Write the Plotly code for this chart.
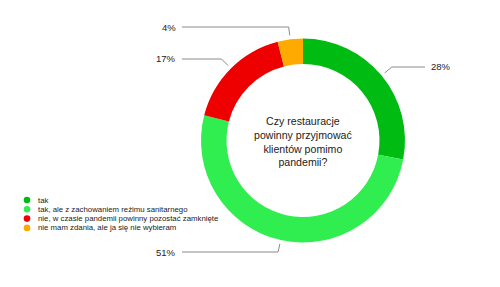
import math
import plotly.graph_objects as go

# ---- data ----
categories = [
    "tak",
    "tak, ale z zachowaniem reżimu sanitarnego",
    "nie, w czasie pandemii powinny pozostać zamknięte",
    "nie mam zdania, ale ja się nie wybieram",
]
values = [28, 51, 17, 4]
value_labels = ["28%", "51%", "17%", "4%"]
colors = ["#00BC12", "#30EE4F", "#EE0000", "#FFAA00"]
title_text = "Czy restauracje<br>powinny przyjmować<br>klientów pomimo<br>pandemii?"

# ---- layout geometry (pixels) ----
W, H = 500, 287
CX, CY, R = 303, 140.5, 102
HOLE = 0.75
# label y positions (pixels) for each slice
label_y = [67, 252, 59, 27]
LEFT_END, RIGHT_END = 182, 425
FONT = "Liberation Sans, Arial, sans-serif"


def px(x):
    return x / W


def py(y):
    return 1 - y / H


fig = go.Figure()
fig.add_trace(go.Pie(
    labels=categories,
    values=values,
    sort=False,
    direction="clockwise",
    rotation=0,
    hole=HOLE,
    marker=dict(colors=colors, line=dict(width=0)),
    textinfo="none",
    hoverinfo="label+percent",
    showlegend=False,
    domain=dict(x=[px(CX - R), px(CX + R)], y=[py(CY + R), py(CY - R)]),
))

shapes = []
annotations = []
total = sum(values)
cum = 0
for i, v in enumerate(values):
    mid = (cum + v / 2) / total * 2 * math.pi
    cum += v
    sx, sy = math.sin(mid), -math.cos(mid)
    x0, y0 = CX + (R + 4) * sx, CY + (R + 4) * sy
    ly = label_y[i]
    if abs(sy) > 1e-6:
        t = (ly - CY) / sy
    else:
        t = R + 12
    x1 = CX + t * sx
    y1 = ly
    right = sx > 0
    x2 = RIGHT_END if right else LEFT_END
    shapes.append(dict(type="path",
                       path=f"M {px(x0)} {py(y0)} L {px(x1)} {py(y1)} L {px(x2)} {py(y1)}",
                       xref="paper", yref="paper",
                       line=dict(color="#8a8a8a", width=1)))
    annotations.append(dict(
        x=px(x2 + (4 if right else -4)), y=py(ly), xref="paper", yref="paper",
        text=value_labels[i], showarrow=False,
        xanchor="left" if right else "right", yanchor="middle",
        font=dict(size=9.5, color="#222222", family=FONT),
    ))

# center title
annotations.append(dict(
    x=px(CX), y=py(CY + 1), xref="paper", yref="paper",
    text=title_text, showarrow=False, xanchor="center", yanchor="middle",
    font=dict(size=10.6, color="#222222", family=FONT),
))

# custom compact legend
LEG_X, LEG_Y0, LEG_DY = 27, 200, 9.3
for i, name in enumerate(categories):
    yy = LEG_Y0 + i * LEG_DY
    shapes.append(dict(type="circle", xref="paper", yref="paper",
                       x0=px(LEG_X - 3.3), x1=px(LEG_X + 3.3),
                       y0=py(yy + 3.3), y1=py(yy - 3.3),
                       fillcolor=colors[i], line=dict(width=0)))
    annotations.append(dict(
        x=px(LEG_X + 9), y=py(yy), xref="paper", yref="paper",
        text=name, showarrow=False, xanchor="left", yanchor="middle",
        font=dict(size=7.8, color="#222222", family=FONT),
    ))

fig.update_layout(
    width=W, height=H,
    margin=dict(l=0, r=0, t=0, b=0),
    paper_bgcolor="white", plot_bgcolor="white",
    shapes=shapes, annotations=annotations,
)

fig.write_html("out.html")
